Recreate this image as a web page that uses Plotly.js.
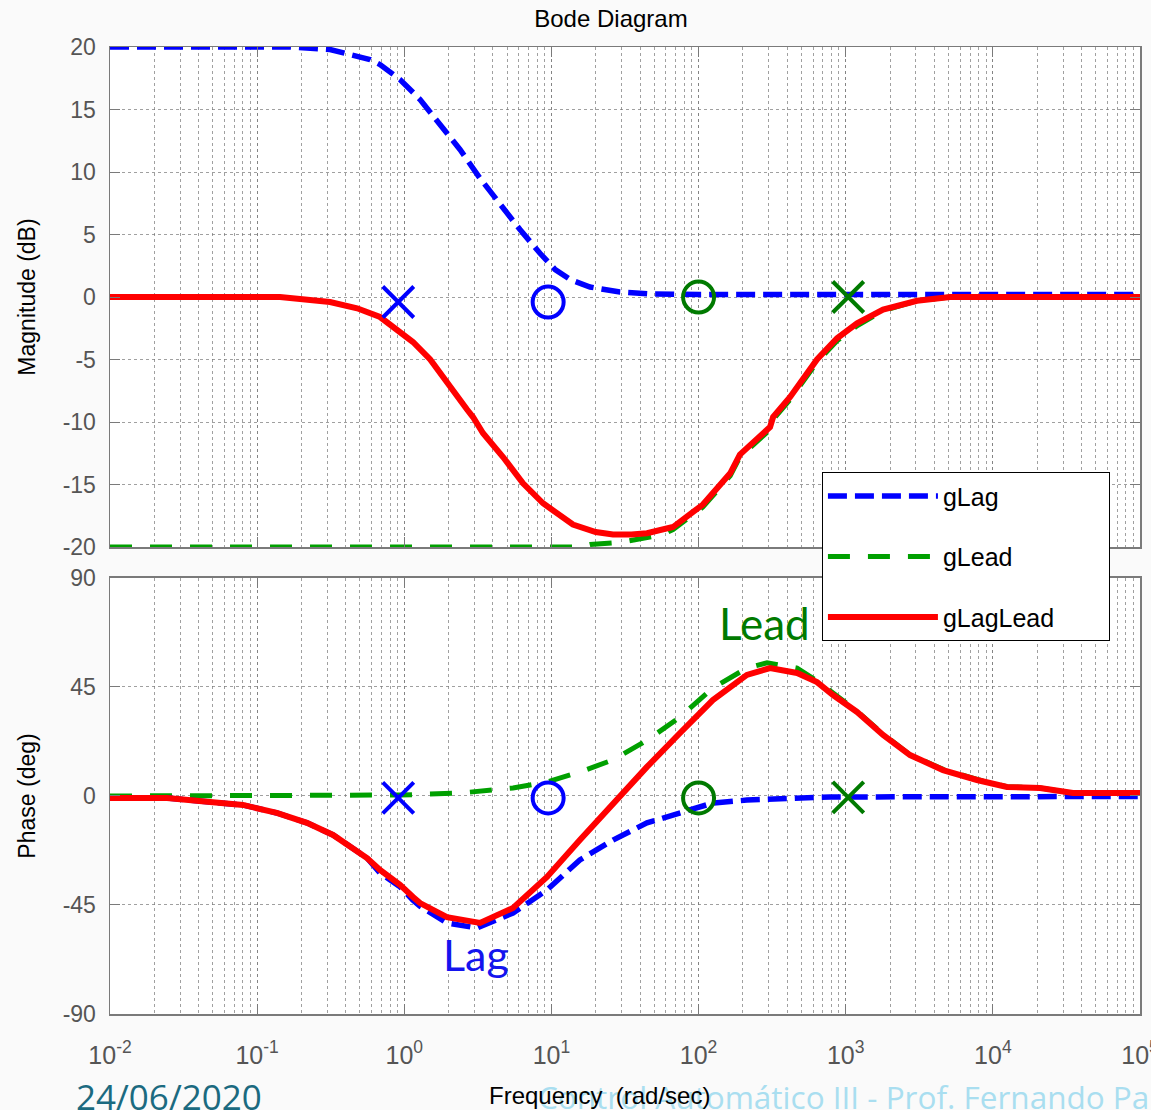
<!DOCTYPE html>
<html>
<head>
<meta charset="utf-8">
<script src="https://cdn.plot.ly/plotly-3.0.1.min.js"></script>
<style>
html,body{margin:0;padding:0;background:#fafafa;}
#chart{width:1151px;height:1110px;}
</style>
</head>
<body>
<div id="chart"></div>
<script>
// ---- Data ----
// Magnitude (dB)
const lagMagW   = [0.01,0.167,0.313,0.585,0.684,0.935,1.28,1.75,2.39,3.27,4.48,6.11,8.36,10.6,13.4,18.3,29.2,46.8,102,1000,100000];
const lagMagDb  = [20,20,19.8,19.0,18.6,17.4,15.8,13.8,11.8,9.5,7.4,5.4,3.5,2.2,1.4,0.8,0.4,0.24,0.2,0.2,0.2];

const leadMagW  = [0.01,15.6,18.3,30.6,57.3,67.0,107,164,191,306,321,419,638,873,1194,1794,3054,5117,100000];
const leadMagDb = [-20,-20,-19.8,-19.6,-19.0,-18.6,-16.8,-14.3,-12.8,-10.6,-9.8,-8.2,-5.2,-3.5,-2.3,-1.1,-0.3,0,0];

const llMagW    = [0.01,0.143,0.313,0.478,0.684,1.146,1.50,1.95,2.67,2.93,3.43,4.69,6.41,8.77,14.0,20.0,26.2,35.0,44.6,67.0,107,164,191,306,321,419,638,873,1194,1794,3054,5117,100000];
const llMagDb   = [0,0,-0.4,-0.9,-1.6,-3.6,-5.0,-6.9,-9.0,-9.6,-10.9,-12.8,-14.9,-16.5,-18.2,-18.8,-19.0,-19.0,-18.9,-18.4,-16.6,-14.1,-12.6,-10.4,-9.6,-8.0,-5.0,-3.3,-2.1,-1.0,-0.3,0,0];

// Phase (deg)
const lagPhW    = [0.01,0.0244,0.0479,0.0802,0.136,0.218,0.328,0.558,0.684,0.935,1.146,1.28,1.95,3.12,5.48,9.33,15.6,26.2,44.6,74.8,125,213,782,100000];
const lagPhDeg  = [-0.8,-0.8,-2.5,-3.7,-7.0,-11.1,-16.1,-25.6,-31.8,-37.5,-43,-45.5,-52.4,-54.5,-48.3,-38.8,-26.4,-18.2,-11.1,-7.0,-2.9,-1.7,-0.4,-0.2];

const leadPhW   = [0.01,0.935,2.39,5.48,9.33,15.6,26.2,44.6,74.8,125,213,292,467,638,820,1194,1794,2737,4585,7802,12470,20930,35050,100000];
const leadPhDeg = [0,0.4,1.2,3.3,5.8,9.9,14.9,23,32.6,44.6,52.8,55,52.8,47.5,42.5,35,25.5,17,11,6.8,3.8,3.3,1.2,1.0];

const llPhW     = [0.01,0.0244,0.0479,0.0802,0.136,0.218,0.328,0.558,0.684,0.935,1.146,1.28,1.95,3.27,5.48,9.33,15.6,26.2,44.6,74.8,125,213,306,467,638,820,1194,1794,2737,4585,7802,12470,20930,35050,100000];
const llPhDeg   = [-0.8,-0.8,-2.5,-3.7,-7.0,-11.1,-16.1,-25.6,-30.5,-36.7,-41.7,-44.2,-50,-52.4,-46.2,-33.4,-18.2,-2.9,12.0,26,39.6,50,52.8,50.8,47,41.7,34.7,25.2,16.9,10.7,6.6,3.7,3.3,1.2,1.2];

// Pole / zero markers
const lagPoleW = [0.91],  lagZeroW = [9.5];
const leadZeroW = [100],  leadPoleW = [1040];
const magMarkLag = [-0.4], magMarkLead = [0];
const phMarkLag = [-0.8],  phMarkLead = [-0.6];

// Axis ticks
const xTickVals = [0.01,0.1,1,10,100,1000,10000,100000];
const xTickText = ['10<sup>-2</sup>','10<sup>-1</sup>','10<sup>0</sup>','10<sup>1</sup>','10<sup>2</sup>','10<sup>3</sup>','10<sup>4</sup>','10<sup>5</sup>'];
const legendNames = ['gLag','gLead','gLagLead'];

// ---- Styles ----
const BLUE = '#0000ff', GREEN = '#00a000', RED = '#ff0000', DKGREEN = '#007a00';
const blueLine  = {color: BLUE,  width: 5.5, dash: '19px,8px'};
const greenLine = {color: GREEN, width: 5,   dash: '22px,18px'};
const redLine   = {color: RED,   width: 6};

function line(x, y, ln, name, xa, ya, show, grp) {
  return {type:'scatter', mode:'lines', x:x, y:y, line:ln, name:name,
          xaxis:xa, yaxis:ya, showlegend:show, legendgroup:grp, hoverinfo:'skip'};
}
function mark(x, y, sym, col, xa, ya) {
  return {type:'scatter', mode:'markers', x:x, y:y, xaxis:xa, yaxis:ya, showlegend:false,
          marker:{symbol:sym, size:31, color:col, line:{color:col, width:4}}, hoverinfo:'skip'};
}

const traces = [
  line(leadMagW, leadMagDb, greenLine, legendNames[1], 'x', 'y', false, 'g2'),
  line(lagMagW,  lagMagDb,  blueLine,  legendNames[0], 'x', 'y', false, 'g1'),
  line(llMagW,   llMagDb,   redLine,   legendNames[2], 'x', 'y', false, 'g3'),
  line(leadPhW,  leadPhDeg, greenLine, legendNames[1], 'x2', 'y2', false, 'g2'),
  line(lagPhW,   lagPhDeg,  blueLine,  legendNames[0], 'x2', 'y2', false, 'g1'),
  line(llPhW,    llPhDeg,   redLine,   legendNames[2], 'x2', 'y2', false, 'g3'),
  mark(lagPoleW,  magMarkLag,  'x-thin-open', BLUE, 'x', 'y'),
  mark(lagZeroW,  magMarkLag,  'circle-open', BLUE, 'x', 'y'),
  mark(leadZeroW, magMarkLead, 'circle-open', DKGREEN, 'x', 'y'),
  mark(leadPoleW, magMarkLead, 'x-thin-open', DKGREEN, 'x', 'y'),
  mark(lagPoleW,  phMarkLag,   'x-thin-open', BLUE, 'x2', 'y2'),
  mark(lagZeroW,  phMarkLag,   'circle-open', BLUE, 'x2', 'y2'),
  mark(leadZeroW, phMarkLag,   'circle-open', DKGREEN, 'x2', 'y2'),
  mark(leadPoleW, phMarkLead,  'x-thin-open', DKGREEN, 'x2', 'y2'),
];
// legend entries (null data so only their legend items show)
legendNames.forEach((n, i) => {
  const ln = [blueLine, greenLine, redLine][i];
  traces.push({type:'scatter', mode:'lines', x:[null], y:[null], xaxis:'x', yaxis:'y',
               name:n + '&nbsp;&nbsp;&nbsp;&nbsp;&nbsp;&nbsp;&nbsp;', line:ln, showlegend:true, legendgroup:'L'+i, hoverinfo:'skip'});
});

const FONT = 'Liberation Sans, Arial, Helvetica, sans-serif';
const GRID = 'rgba(120,120,120,0.7)';
const xBase = {
  type:'log', range:[-2,5], showline:true, linecolor:'#7a7a7a', linewidth:1.5, mirror:'ticks',
  ticks:'inside', ticklen:10, tickcolor:'#7a7a7a',
  tickvals:xTickVals, ticktext:xTickText, ticklabeloverflow:'allow',
  showgrid:true, gridcolor:GRID, griddash:'dot', gridwidth:1,
  minor:{dtick:'D1', showgrid:true, gridcolor:GRID, griddash:'dot', gridwidth:1, ticks:''},
  zeroline:false, tickfont:{family:FONT, size:25, color:'#555'}
};
const yBase = {
  showline:true, linecolor:'#7a7a7a', linewidth:1.5, mirror:'ticks',
  ticks:'inside', ticklen:10, tickcolor:'#7a7a7a',
  showgrid:true, gridcolor:GRID, griddash:'dot', gridwidth:1, zeroline:false,
  tickfont:{family:FONT, size:23, color:'#555'}, ticklabelstandoff:8
};

const layout = {
  width:1151, height:1110,
  paper_bgcolor:'#fafafa', plot_bgcolor:'#ffffff',
  margin:{l:110, r:11, t:47, b:96},
  font:{family:FONT},
  title:{text:'Bode Diagram', font:{family:FONT, size:24, color:'#000'},
         xref:'paper', x:0.4864, xanchor:'center', yref:'container', y:0.983, yanchor:'middle'},
  xaxis: Object.assign({}, xBase, {anchor:'y', showticklabels:false, matches:'x2'}),
  yaxis: Object.assign({}, yBase, {domain:[0.4829,1], range:[-20,20], tickvals:[-20,-15,-10,-5,0,5,10,15,20],
          ticktext:['-20','-15','-10','-5','0','5','10','15','20'],
          title:{text:'Magnitude (dB)', font:{family:FONT, size:23, color:'#000'}, standoff:20}}),
  xaxis2: Object.assign({}, xBase, {anchor:'y2', ticklabelstandoff:18}),
  yaxis2: Object.assign({}, yBase, {domain:[0,0.4509], range:[-90,90], tickvals:[-90,-45,0,45,90],
          ticktext:['-90','-45','0','45','90'],
          title:{text:'Phase (deg)', font:{family:FONT, size:23, color:'#000'}, standoff:20}}),
  showlegend:true,
  legend:{x:0.691, xanchor:'left', y:0.5605, yanchor:'top', bgcolor:'#ffffff',
          bordercolor:'#000', borderwidth:1.2, font:{family:FONT, size:25, color:'#000'},
          itemwidth:110, traceorder:'grouped', tracegroupgap:25, itemclick:false},
  annotations:[
    {text:'Lead', xref:'x2', yref:'y2', x:Math.log10(590), y:71.5, showarrow:false,
     font:{family:'Lato, Open Sans, sans-serif', size:44, color:DKGREEN}, xanchor:'right'},
    {text:'Lag', xref:'x2', yref:'y2', x:Math.log10(3.07), y:-65.6, showarrow:false,
     font:{family:'Lato, Open Sans, sans-serif', size:43, color:'#1414ee'}},
    {text:'24/06/2020', xref:'paper', yref:'paper', x:-0.035, y:-0.085, xanchor:'left', yanchor:'middle',
     showarrow:false, font:{family:'Open Sans, sans-serif', size:35, color:'#1b6a80'}},
    {text:'Control Automático III - Prof. Fernando Pa', xref:'paper', yref:'paper', x:0.414, y:-0.085,
     xanchor:'left', yanchor:'middle', showarrow:false,
     font:{family:'Open Sans, sans-serif', size:31.5, color:'#a9def0'}},
    {text:'Frequency  (rad/sec)', xref:'paper', yref:'paper', x:0.4748, y:-0.0838,
     xanchor:'center', yanchor:'middle', showarrow:false,
     font:{family:FONT, size:24, color:'#000'}}
  ]
};

Plotly.newPlot('chart', traces, layout, {staticPlot:true});
</script>
</body>
</html>
